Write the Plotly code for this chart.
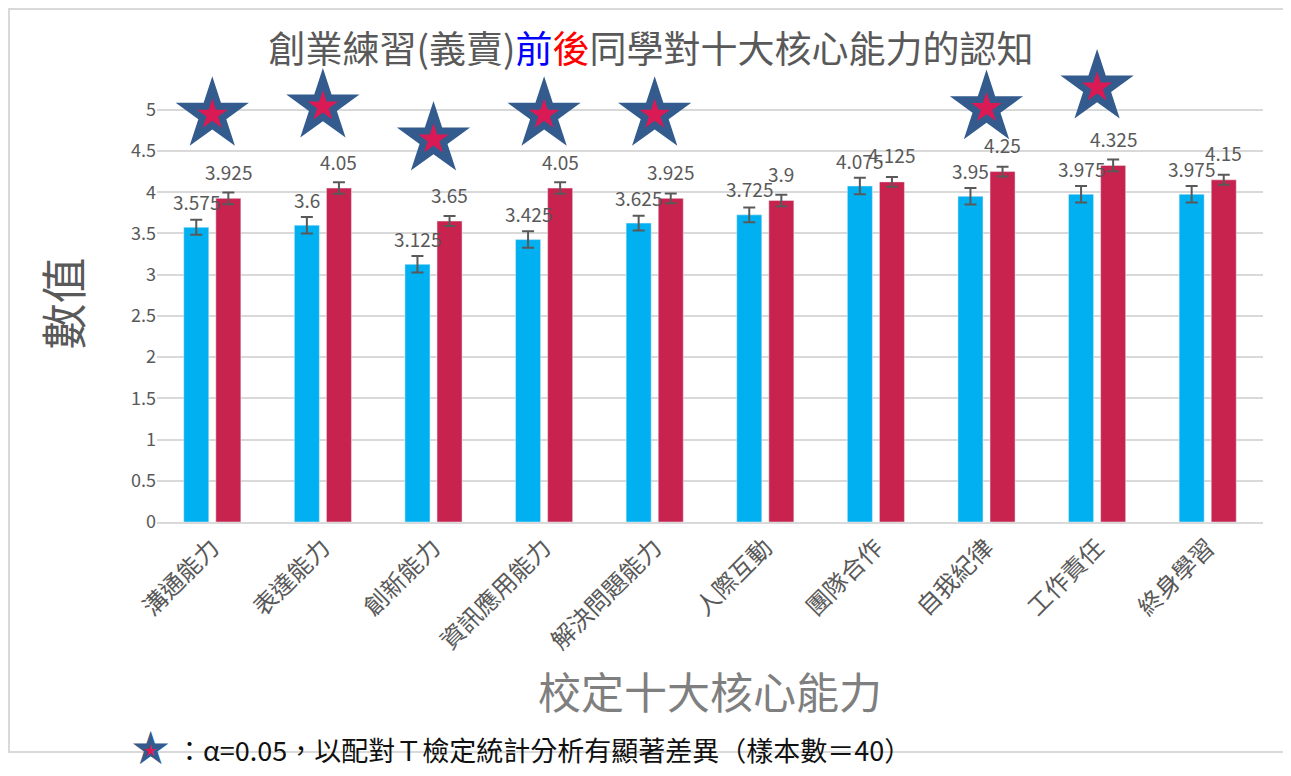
import plotly.graph_objects as go

categories = ["溝通能力", "表達能力", "創新能力", "資訊應用能力", "解決問題能力",
              "人際互動", "團隊合作", "自我紀律", "工作責任", "終身學習"]
before_vals = [3.575, 3.6, 3.125, 3.425, 3.625, 3.725, 4.075, 3.95, 3.975, 3.975]
after_vals = [3.925, 4.05, 3.65, 4.05, 3.925, 3.9, 4.125, 4.25, 4.325, 4.15]
before_err = [0.09, 0.1, 0.1, 0.1, 0.09, 0.09, 0.1, 0.1, 0.1, 0.1]
after_err = [0.07, 0.07, 0.06, 0.07, 0.06, 0.07, 0.06, 0.06, 0.07, 0.06]
star_idx = [0, 1, 2, 3, 4, 7, 8]
star_y = [4.94, 5.04, 4.64, 4.94, 4.94, 5.02, 5.27]

# page body has an 8px margin; figure is sized to fit the window
OFF = 8
W, H = 1283, 768
ML, MR, MT, MB = 149, 28, 77, 254
YMAX = 5.3
BARGAP = 0.42
GROUPGAP = 0.22

BLUE = "#00B0F0"
RED = "#C8234F"
STAR_BLUE = "#335B8E"
STAR_RED = "#DA1A55"
GREY = "#595959"
FONT = "Noto Sans CJK TC, Noto Sans, sans-serif"

xs = list(range(len(categories)))

fig = go.Figure()
fig.add_trace(go.Bar(
    x=xs, y=before_vals, name="前", marker_color=BLUE,
    error_y=dict(type="data", array=before_err, color=GREY, thickness=2, width=6),
))
fig.add_trace(go.Bar(
    x=xs, y=after_vals, name="後", marker_color=RED,
    error_y=dict(type="data", array=after_err, color=GREY, thickness=2, width=6),
))
fig.add_trace(go.Scatter(
    x=star_idx, y=star_y, mode="markers", cliponaxis=False, hoverinfo="skip",
    marker=dict(symbol="star", size=55, color=STAR_BLUE, line=dict(width=0)),
))
fig.add_trace(go.Scatter(
    x=star_idx, y=star_y, mode="markers", cliponaxis=False, hoverinfo="skip",
    marker=dict(symbol="star", size=23, color=STAR_RED, line=dict(width=0)),
))

off = (1 - BARGAP) / 4
annotations = []
for i, (b, a) in enumerate(zip(before_vals, after_vals)):
    annotations.append(dict(x=i - off, y=b, text=f"{b:g}", showarrow=False,
                            yanchor="middle", yshift=26,
                            font=dict(size=19, color=GREY, family=FONT)))
    annotations.append(dict(x=i + off, y=a, text=f"{a:g}", showarrow=False,
                            yanchor="middle", yshift=27,
                            font=dict(size=19, color=GREY, family=FONT)))

pw = W - ML - MR
ph = H - MT - MB


def px_x(p):
    return (p - OFF - ML) / pw


def px_y(p):
    return (H - MB - (p - OFF)) / ph


# footer legend
annotations.append(dict(xref="paper", yref="paper", x=px_x(150), y=px_y(748),
                        text="★", showarrow=False, xanchor="center", yanchor="middle",
                        font=dict(size=46, color=STAR_BLUE, family="DejaVu Sans")))
annotations.append(dict(xref="paper", yref="paper", x=px_x(150), y=px_y(750),
                        text="★", showarrow=False, xanchor="center", yanchor="middle",
                        font=dict(size=16, color=STAR_RED, family="DejaVu Sans")))
annotations.append(dict(xref="paper", yref="paper", x=px_x(174), y=px_y(749),
                        text="：α=0.05，以配對Ｔ檢定統計分析有顯著差異（樣本數＝40）",
                        showarrow=False, xanchor="left", yanchor="middle",
                        font=dict(size=27, color="#111111", family=FONT)))

fig.update_layout(
    width=W, height=H,
    margin=dict(l=ML, r=MR, t=MT, b=MB),
    paper_bgcolor="white", plot_bgcolor="white",
    barmode="group", bargap=BARGAP, bargroupgap=GROUPGAP,
    showlegend=False,
    title=dict(
        text='創業練習(義賣)<span style="color:#0000FF">前</span><span style="color:#FF0000">後</span>同學對十大核心能力的認知',
        x=(651 - OFF) / W, xref="container", xanchor="center",
        y=1 - (50 - OFF) / H, yref="container", yanchor="middle",
        font=dict(size=37, color=GREY, family=FONT),
    ),
    xaxis=dict(
        range=[-0.5, len(categories) - 0.5],
        tickvals=xs, ticktext=categories, tickangle=-45,
        tickfont=dict(size=24, color=GREY, family=FONT),
        showgrid=False, showline=True, linecolor="#D9D9D9", linewidth=2,
        ticks="", zeroline=False,
        title=dict(text="校定十大核心能力", standoff=24,
                   font=dict(size=43, color="#7F7F7F", family=FONT)),
    ),
    yaxis=dict(
        range=[0, YMAX],
        tickvals=[0, 0.5, 1, 1.5, 2, 2.5, 3, 3.5, 4, 4.5, 5],
        ticktext=["0", "0.5", "1", "1.5", "2", "2.5", "3", "3.5", "4", "4.5", "5"],
        tickfont=dict(size=18, color=GREY, family=FONT),
        showgrid=True, gridcolor="#D9D9D9", gridwidth=2,
        zeroline=False, ticks="", ticklen=0,
        title=dict(text="數值", standoff=34,
                   font=dict(size=46, color=GREY, family=FONT)),
    ),
    annotations=annotations,
    shapes=[dict(type="rect", xref="paper", yref="paper",
                 x0=px_x(9), x1=px_x(1289), y0=px_y(752), y1=px_y(9),
                 line=dict(color="#D9D9D9", width=2), fillcolor="rgba(0,0,0,0)",
                 layer="below")],
)

fig.write_html("out.html")
